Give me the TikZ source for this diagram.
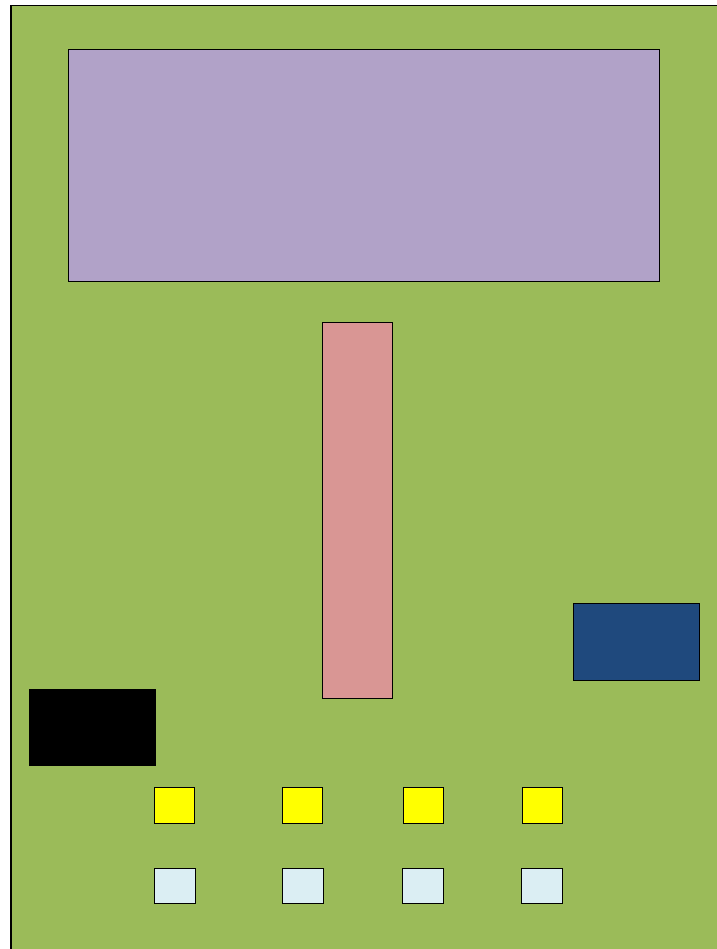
\documentclass[tikz,border=0pt]{standalone}
\usepackage{tikz}

\definecolor{boardgreen}{HTML}{9BBB59}
\definecolor{screenlilac}{HTML}{B1A2C8}
\definecolor{slotpink}{HTML}{D99694}
\definecolor{portblue}{HTML}{1F497D}
\definecolor{keyyellow}{HTML}{FFFF00}
\definecolor{ledblue}{HTML}{DBEEF3}

\begin{document}
\begin{tikzpicture}[x=1pt,y=-1pt,
  part/.style={draw=black,line width=1pt,inner sep=0pt,anchor=north west},
  key/.style={part,fill=keyyellow,minimum width=40pt,minimum height=36pt},
  led/.style={part,fill=ledblue,minimum width=41pt,minimum height=35pt}]
\useasboundingbox (0,0) rectangle (716,949);
\node (board) [part,fill=boardgreen,line width=1.5pt,minimum width=720pt,minimum height=960pt] at (10,5) {};
\node (screen) [part,fill=screenlilac,minimum width=591pt,minimum height=232pt] at (68,49) {};
\node (slot) [part,fill=slotpink,minimum width=70pt,minimum height=376pt] at (322,322) {};
\node (port) [part,fill=portblue,minimum width=126pt,minimum height=77pt] at (573,603) {};
\node (block) [part,draw=none,fill=black,minimum width=127pt,minimum height=77pt] at (28,688) {};

\node (k1) [key] at (154,787) {};
\node (k2) [key] at (282,787) {};
\node (k3) [key] at (403,787) {};
\node (k4) [key] at (522,787) {};

\node (l1) [led] at (154,868) {};
\node (l2) [led] at (282,868) {};
\node (l3) [led] at (402,868) {};
\node (l4) [led] at (521,868) {};
\end{tikzpicture}
\end{document}
